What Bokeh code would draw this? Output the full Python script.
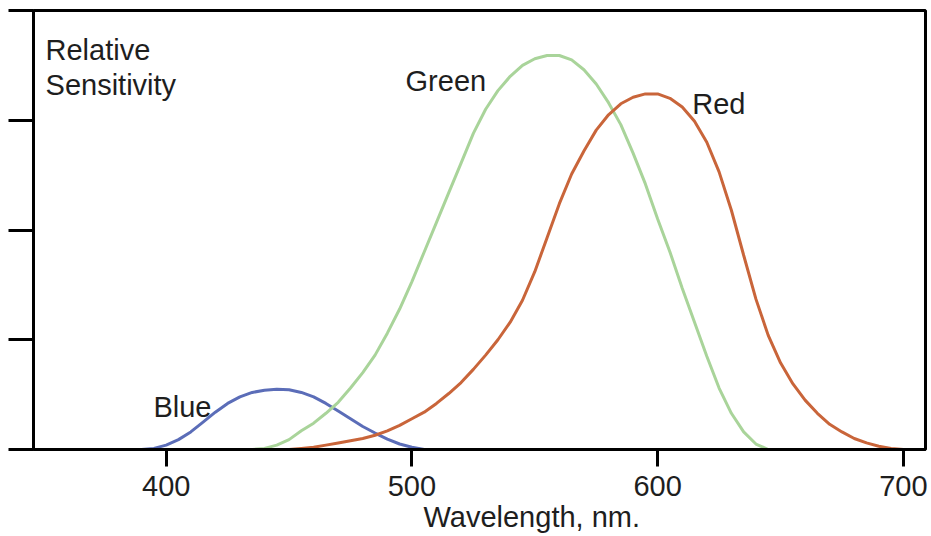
from bokeh.plotting import figure
from bokeh.models import FixedTicker, Range1d, Title
from bokeh.core.properties import value
from bokeh.embed import file_html
from bokeh.resources import INLINE

# Wavelengths (nm) sampled every 5 nm
blue_nm = [390, 395, 400, 405, 410, 415, 420, 425, 430, 435, 440, 445, 450,
           455, 460, 465, 470, 475, 480, 485, 490, 495, 500, 505]
blue_val = [0.00, 0.01, 0.04, 0.09, 0.16, 0.25, 0.34, 0.42, 0.48, 0.52, 0.54, 0.55, 0.545,
            0.52, 0.48, 0.42, 0.35, 0.28, 0.21, 0.15, 0.095, 0.05, 0.02, 0.00]

green_nm = [435, 440, 445, 450, 455, 460, 465, 470, 475, 480, 485, 490, 495, 500,
            505, 510, 515, 520, 525, 530, 535, 540, 545, 550, 555, 560, 565, 570,
            575, 580, 585, 590, 595, 600, 605, 610, 615, 620, 625, 630, 635, 640, 645]
green_val = [0.00, 0.01, 0.04, 0.09, 0.17, 0.24, 0.33, 0.43, 0.56, 0.70, 0.86, 1.06, 1.28, 1.53,
             1.80, 2.07, 2.34, 2.61, 2.88, 3.10, 3.27, 3.40, 3.50, 3.56, 3.59, 3.59, 3.55, 3.46,
             3.33, 3.16, 2.96, 2.70, 2.42, 2.10, 1.80, 1.47, 1.16, 0.85, 0.56, 0.33, 0.16, 0.05, 0.00]

red_nm = [450, 455, 460, 465, 470, 475, 480, 485, 490, 495, 500, 505, 510, 515, 520,
          525, 530, 535, 540, 545, 550, 555, 560, 565, 570, 575, 580, 585, 590, 595,
          600, 605, 610, 615, 620, 625, 630, 635, 640, 645, 650, 655, 660, 665, 670,
          675, 680, 685, 690, 695, 700]
red_val = [0.00, 0.01, 0.02, 0.04, 0.06, 0.08, 0.10, 0.13, 0.17, 0.22, 0.28, 0.34, 0.42, 0.51, 0.61,
           0.73, 0.86, 1.00, 1.16, 1.36, 1.62, 1.93, 2.24, 2.51, 2.72, 2.91, 3.05, 3.15, 3.21, 3.24,
           3.24, 3.20, 3.12, 2.99, 2.80, 2.53, 2.18, 1.77, 1.37, 1.04, 0.79, 0.60, 0.45, 0.33, 0.23,
           0.16, 0.10, 0.06, 0.03, 0.01, 0.00]

x_ticks = [400, 500, 600, 700]
y_ticks = [0, 1, 2, 3, 4]

FONT = "Liberation Sans"
TXT = "#1e1e1e"
FS = "29px"

p = figure(width=931, height=536, x_range=Range1d(346, 709), y_range=Range1d(0, 4),
           output_backend="svg", toolbar_location=None,
           min_border_left=33, min_border_right=6, min_border_top=10, min_border_bottom=87)
p.grid.visible = False
p.background_fill_color = "white"
p.border_fill_color = "white"
p.outline_line_color = "black"
p.outline_line_width = 3
p.outline_line_alpha = 1.0

xa = p.xaxis[0]
xa.ticker = FixedTicker(ticks=x_ticks)
xa.major_tick_out = 17
xa.major_tick_in = 0
xa.minor_tick_line_color = None
xa.axis_line_width = 3
xa.axis_line_color = "black"
xa.major_tick_line_width = 3
xa.major_tick_line_color = "black"
xa.major_label_text_font = FONT
xa.major_label_text_font_size = FS
xa.major_label_text_color = TXT
xa.major_label_standoff = 9

ya = p.yaxis[0]
ya.ticker = FixedTicker(ticks=y_ticks)
ya.major_tick_out = 25
ya.major_tick_in = 0
ya.minor_tick_line_color = None
ya.axis_line_width = 3
ya.axis_line_color = "black"
ya.major_tick_line_width = 3
ya.major_tick_line_color = "black"
ya.major_label_overrides = {t: "" for t in y_ticks}
ya.major_label_text_color = None
ya.major_label_standoff = 0

p.line(blue_nm, blue_val, line_color="#5b6db8", line_width=3)
p.line(green_nm, green_val, line_color="#a9d49a", line_width=3)
p.line(red_nm, red_val, line_color="#c9653a", line_width=3)

p.text(x=[350.9, 350.9, 497.4, 614.1, 394.8],
       y=[3.636, 3.317, 3.362, 3.144, 0.383],
       text=["Relative", "Sensitivity", "Green", "Red", "Blue"],
       text_font=value(FONT), text_font_size=FS, text_color=TXT,
       text_baseline="alphabetic", text_align="left")

p.add_layout(Title(text="Wavelength, nm.", align="left", offset=390, standoff=0,
                   vertical_align="bottom", text_font=FONT, text_font_size=FS,
                   text_font_style="normal", text_color=TXT), "below")

open("out.html", "w").write(file_html(p, INLINE))
